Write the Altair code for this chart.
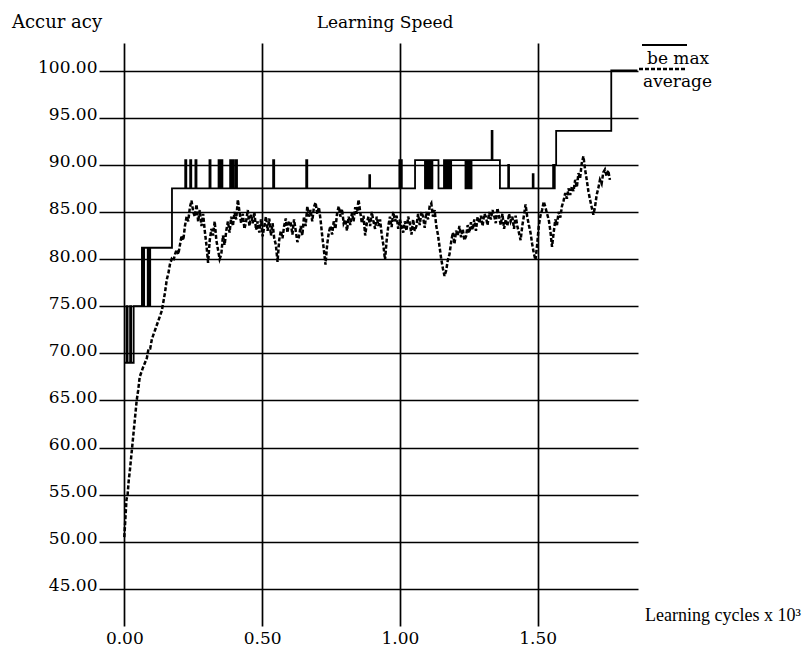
import altair as alt
import pandas as pd

FONT = "DejaVu Serif"

x_ticks = [0.0, 0.5, 1.0, 1.5]
y_ticks = [45, 50, 55, 60, 65, 70, 75, 80, 85, 90, 95, 100]

# "be max" (best maximum) step series: change points and levels
max_cycles = [
    0.000, 0.008, 0.012, 0.021, 0.025, 0.034, 0.064, 0.068, 0.072, 0.085,
    0.088, 0.091, 0.094, 0.173, 0.221, 0.225, 0.239, 0.243, 0.258, 0.262,
    0.309, 0.313, 0.342, 0.345, 0.347, 0.350, 0.352, 0.356, 0.384, 0.388,
    0.394, 0.398, 0.405, 0.409, 0.540, 0.544, 0.660, 0.664, 0.889, 0.892,
    0.998, 1.001, 1.004, 1.007, 1.055, 1.091, 1.097, 1.100, 1.104, 1.107,
    1.111, 1.114, 1.118, 1.140, 1.160, 1.163, 1.168, 1.172, 1.177, 1.181,
    1.186, 1.238, 1.242, 1.246, 1.251, 1.255, 1.260, 1.333, 1.336, 1.363,
    1.393, 1.396, 1.482, 1.485, 1.556, 1.559, 1.562, 1.567, 1.767, 1.862,
]
max_acc = [
    69, 75, 69, 75, 69, 75, 81.2, 75, 81.2, 75,
    81.2, 75, 81.2, 87.5, 90.5, 87.5, 90.5, 87.5, 90.5, 87.5,
    90.5, 87.5, 90.5, 87.5, 90.5, 87.5, 90.5, 87.5, 90.5, 87.5,
    90.5, 87.5, 90.5, 87.5, 90.5, 87.5, 90.5, 87.5, 88.9, 87.5,
    90.5, 87.5, 90.5, 87.5, 90.5, 87.5, 90.5, 87.5, 90.5, 87.5,
    90.5, 87.5, 90.5, 87.5, 90.5, 87.5, 90.5, 87.5, 90.5, 87.5,
    90.5, 87.5, 90.5, 87.5, 90.5, 87.5, 90.5, 93.6, 90.5, 87.5,
    90, 87.5, 89, 87.5, 90, 87.5, 90, 93.6, 100, 100,
]

# "average" series
avg_cycles = [
    0.000, 0.004, 0.008, 0.012, 0.016, 0.020, 0.025, 0.030, 0.035, 0.040,
    0.045, 0.050, 0.056, 0.062, 0.068, 0.075, 0.082, 0.088, 0.094, 0.100,
    0.106, 0.112, 0.118, 0.124, 0.130, 0.136, 0.142, 0.148, 0.154, 0.160,
    0.166, 0.172, 0.178, 0.184, 0.190, 0.196, 0.202, 0.208, 0.214, 0.220,
    0.226, 0.232, 0.238, 0.244, 0.250,
    0.256, 0.262, 0.268, 0.274, 0.280, 0.286, 0.292, 0.298, 0.304, 0.310,
    0.316, 0.322, 0.328, 0.334, 0.340, 0.346, 0.352, 0.358, 0.364, 0.370,
    0.376, 0.382, 0.388, 0.394, 0.400, 0.406, 0.412, 0.418, 0.424, 0.430,
    0.436, 0.442, 0.448, 0.454, 0.460, 0.466, 0.472, 0.478, 0.484, 0.490,
    0.496, 0.502, 0.508, 0.514, 0.520, 0.526, 0.532, 0.538, 0.544, 0.550,
    0.556, 0.562, 0.568, 0.574, 0.580, 0.586, 0.592, 0.598, 0.604, 0.610,
    0.616, 0.622, 0.628, 0.634, 0.640, 0.646, 0.652, 0.658, 0.664, 0.670,
    0.676, 0.682, 0.688, 0.694, 0.700, 0.706, 0.712, 0.718, 0.724, 0.730,
    0.736, 0.742, 0.748, 0.754, 0.760, 0.766, 0.772, 0.778, 0.784, 0.790,
    0.796, 0.802, 0.808, 0.814, 0.820, 0.826, 0.832, 0.838, 0.844, 0.850,
    0.856, 0.862, 0.868, 0.874, 0.880, 0.886, 0.892, 0.898, 0.904, 0.910,
    0.916, 0.922, 0.928, 0.934, 0.940, 0.946, 0.952, 0.958, 0.964, 0.970,
    0.976, 0.982, 0.988, 0.994, 1.000, 1.006, 1.012, 1.018, 1.024, 1.030,
    1.036, 1.042, 1.048, 1.054, 1.060, 1.066, 1.072, 1.078, 1.084, 1.090,
    1.096, 1.102, 1.108, 1.114, 1.120, 1.126, 1.132, 1.138, 1.144, 1.150,
    1.156, 1.162, 1.168, 1.174, 1.180, 1.186, 1.192, 1.198, 1.204, 1.210,
    1.216, 1.222, 1.228, 1.234, 1.240, 1.246, 1.252, 1.258, 1.264, 1.270,
    1.276, 1.282, 1.288, 1.294, 1.300, 1.306, 1.312, 1.318, 1.324, 1.330,
    1.336, 1.342, 1.348, 1.354, 1.360, 1.366, 1.372, 1.378, 1.384, 1.390,
    1.396, 1.402, 1.408, 1.414, 1.420, 1.426, 1.432, 1.438, 1.444, 1.450,
    1.456, 1.462, 1.468, 1.474, 1.480, 1.486, 1.492, 1.498, 1.504, 1.510,
    1.516, 1.522, 1.528, 1.534, 1.540, 1.546, 1.552, 1.558, 1.564, 1.570,
    1.576, 1.582, 1.588, 1.594, 1.600, 1.606, 1.612, 1.618, 1.624, 1.630,
    1.636, 1.642, 1.648, 1.654, 1.660, 1.666, 1.672, 1.678, 1.684, 1.690,
    1.696, 1.702, 1.708, 1.714, 1.720, 1.726, 1.732, 1.738, 1.744, 1.750,
    1.756, 1.762,
]
avg_acc = [
    50.5, 52.5, 54.5, 55, 56.5, 57.5, 59, 60.5, 62, 63.5,
    65, 66, 67.5, 68, 68.5, 69, 69.5, 70.5, 70.5, 71.5,
    72, 72.5, 73, 73.5, 74, 74.5, 75.5, 76.5, 77.8, 78.5,
    79.5, 80, 79.8, 80.5, 81, 80.5, 81.5, 82.5, 82, 83.5,
    84.5, 84, 85.5, 86.2, 85,
    84.5, 85.8, 84, 85.2, 83.5, 84.8, 83, 81.5, 79.6, 82,
    83.2, 82.5, 84, 82, 81, 80, 80.5, 82.5, 81.5, 83,
    84, 82.8, 84.5, 83.5, 85, 84.2, 86.3, 85, 83.8, 84.8,
    83.2, 84, 85.2, 83.5, 84.7, 83.8, 85, 83.1, 84, 82.8,
    84.2, 82.4, 83.5, 84.5, 83, 84.3, 82.5, 83.8, 82.2, 81.5,
    79.7, 82, 83, 82.2, 83.5, 84.3, 82.8, 84, 83.8, 82.6,
    84.2, 83, 81.8, 82.4, 83.5, 82.5, 84.5, 83.5, 85.6, 84.5,
    85.2, 84, 85.5, 86, 84.8, 85.5, 84.2, 82.5, 81, 79.4,
    81.5, 82.8, 83.5, 82.6, 84, 83.2, 84.8, 85.6, 84.5, 85.3,
    83.8, 84.2, 83, 84.5, 83.6, 84.9, 84, 85.5, 84.8, 86.3,
    85, 83.8, 84.6, 82.5, 83.8, 84.5, 83.5, 85, 84, 83.2,
    84.5, 83.5, 84.2, 82.6, 81.5, 79.9, 82, 83.5, 84.5, 83.4,
    85, 84, 84.6, 83.2, 84.2, 83.5, 82.8, 84, 83, 84.5,
    83.8, 82.6, 84.2, 83, 83.5, 84.8, 83.6, 85, 84.5, 83.3,
    85, 84.2, 85.6, 85.9, 84.5, 85.2, 83.5, 82.6, 81.3, 80,
    79, 78.2, 78.8, 79.9, 80.5, 81.8, 82.8, 81.6, 83, 82.5,
    83.5, 82.3, 83.2, 82, 82.4, 83.6, 82.8, 83.9, 83.1, 84.2,
    83, 84.5, 83.8, 84.6, 83.5, 84.8, 84.5, 83.6, 85, 84.2,
    85.2, 84.6, 83.8, 85.4, 84.5, 83.6, 84.8, 83.2, 84.2, 83.5,
    84.8, 84, 84.5, 83.2, 84.6, 83.5, 82.8, 82, 83.5, 84.6,
    85.8, 84.5, 83.6, 82.8, 81.6, 80.6, 79.9, 81.5, 83.5, 84.6,
    85.2, 86.1, 85.5, 84.8, 84.2, 83, 81.3, 82.8, 84.2, 83.6,
    85, 84.4, 85.6, 86.2, 87, 86.4, 87.5, 86.8, 87.7, 87.2,
    88.4, 87.6, 89.1, 88.6, 90.2, 90.9, 89.5, 88.4, 87.2, 86.3,
    85.5, 84.7, 85.5, 86.8, 87.5, 88.4, 88, 89.2, 89.5, 88.8,
    89.4, 88.4,
]

X_DOMAIN = [-0.0918, 1.864]
Y_DOMAIN = [41.07, 102.92]

max_df = pd.DataFrame({"cycles": max_cycles, "acc": max_acc})
avg_df = pd.DataFrame({"cycles": avg_cycles, "acc": avg_acc})

x_enc = alt.X(
    "cycles:Q",
    scale=alt.Scale(domain=X_DOMAIN, nice=False, zero=False),
    axis=alt.Axis(
        values=x_ticks, format=".2f", title=None, grid=True,
        gridColor="black", gridWidth=1.7, gridOpacity=1,
        domain=False, ticks=False, labelFont=FONT, labelFontSize=17,
        labelColor="black", labelPadding=4, labelFlush=False,
    ),
)
y_enc = alt.Y(
    "acc:Q",
    scale=alt.Scale(domain=Y_DOMAIN, nice=False, zero=False),
    axis=alt.Axis(
        values=y_ticks, format=".2f", title=None, grid=True,
        gridColor="black", gridWidth=1.7, gridOpacity=1,
        domain=False, ticks=False, labelFont=FONT, labelFontSize=17,
        labelColor="black", labelPadding=2, labelOffset=-3, labelFlush=False,
    ),
)

max_line = alt.Chart(max_df).mark_line(
    interpolate="step-after", color="black", strokeWidth=1.8
).encode(x=x_enc, y=y_enc)

avg_line = alt.Chart(avg_df).mark_line(
    color="black", strokeWidth=2.5, strokeDash=[4, 2]
).encode(x=alt.X("cycles:Q"), y=alt.Y("acc:Q"))


def text_layer(text, x, y, size, align="left", font=FONT):
    return alt.Chart(pd.DataFrame({"t": [text]})).mark_text(
        align=align, baseline="alphabetic", font=font, fontSize=size, color="black"
    ).encode(text="t:N", x=alt.value(x), y=alt.value(y))


title_y = text_layer("Accur acy", -87, -15, 18)
title_main = text_layer("Learning Speed", 286, -15, 17, align="center")
title_x = text_layer("Learning cycles x 10³", 546, 578, 18, font="Liberation Serif")
leg_max_txt = text_layer("be max", 548, 21, 17)
leg_avg_txt = text_layer("average", 544, 44, 17)

dummy = pd.DataFrame({"k": [0]})
leg_max_line = alt.Chart(dummy).mark_rule(color="black", strokeWidth=2).encode(
    x=alt.value(543), x2=alt.value(588), y=alt.value(2)
)
leg_avg_line = alt.Chart(dummy).mark_rule(
    color="black", strokeWidth=2.5, strokeDash=[4, 2]
).encode(x=alt.value(540), x2=alt.value(588), y=alt.value(26))

chart = alt.layer(
    max_line, avg_line, title_y, title_main, title_x,
    leg_max_txt, leg_avg_txt, leg_max_line, leg_avg_line,
).properties(
    width=539,
    height=583,
    autosize=alt.AutoSizeParams(type="none"),
    padding={"left": 91, "top": 35, "right": 164, "bottom": 27},
    background="white",
).configure_view(stroke=None)

chart.save("out.html", embed_options={"renderer": "svg", "actions": False})
